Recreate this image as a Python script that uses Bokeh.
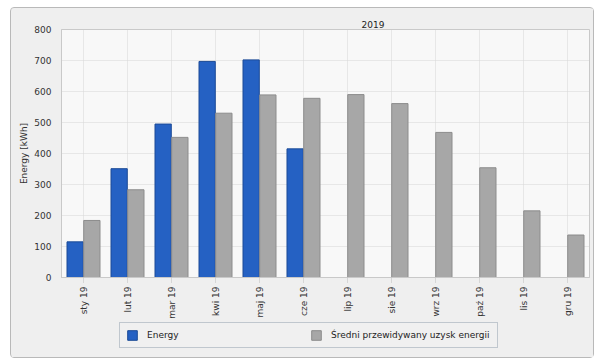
import math
from bokeh.plotting import figure
from bokeh.layouts import column
from bokeh.models import (ColumnDataSource, FactorRange, Range1d, Legend, LegendItem,
                          SingleIntervalTicker)
from bokeh.transform import dodge
from bokeh.embed import file_html
from bokeh.resources import INLINE

months = ["sty 19", "lut 19", "mar 19", "kwi 19", "maj 19", "cze 19",
          "lip 19", "sie 19", "wrz 19", "paź 19", "lis 19", "gru 19"]
energy_months = months[:6]
energy = [115, 351, 495, 697, 702, 415]
expected = [184, 283, 452, 530, 589, 578, 590, 561, 468, 354, 215, 137]
title_text = "2019"
y_label = "Energy [kWh]"
energy_label = "Energy"
expected_label = "Średni przewidywany uzysk energii"

FONT = "DejaVu Sans"
BLUE, BLUE_EDGE = "#2561c3", "#1c4b97"
GREY, GREY_EDGE = "#a7a7a7", "#8c8c8c"
PANEL = "#efefef"

src_e = ColumnDataSource(dict(m=energy_months, v=energy))
src_x = ColumnDataSource(dict(m=months, v=expected))

p = figure(width=582, height=313, x_range=FactorRange(*months, range_padding=0),
           y_range=Range1d(0, 800), output_backend="svg", toolbar_location=None,
           min_border_left=50, min_border_right=4, min_border_top=21, min_border_bottom=44)

p.title.text = title_text
p.title.text_font = FONT
p.title.text_font_size = "9px"
p.title.text_font_style = "normal"
p.title.text_color = "#222222"
p.title.align = "left"
p.title.offset = 300
p.title.standoff = 3

p.border_fill_color = PANEL
p.background_fill_color = "#f8f8f8"
p.outline_line_color = "#c9c9c9"

r1 = p.vbar(x=dodge("m", -0.19, range=p.x_range), top="v", width=0.37, bottom=0,
            source=src_e, fill_color=BLUE, line_color=BLUE_EDGE, line_width=1)
r2 = p.vbar(x=dodge("m", 0.19, range=p.x_range), top="v", width=0.37, bottom=0,
            source=src_x, fill_color=GREY, line_color=GREY_EDGE, line_width=1)

# grids
p.xgrid.grid_line_color = "#d6d6d6"
p.xgrid.grid_line_dash = "1 1"
p.ygrid.grid_line_color = "#d6d6d6"
p.ygrid.grid_line_dash = "1 1"
p.yaxis.ticker = SingleIntervalTicker(interval=100)

# axes
for ax in (p.xaxis[0], p.yaxis[0]):
    ax.axis_line_color = "#c9c9c9"
    ax.major_label_text_font = FONT
    ax.major_label_text_font_size = "9px"
    ax.major_label_text_color = "#333333"
    ax.minor_tick_line_color = None
p.yaxis.major_tick_line_color = None
p.yaxis.major_tick_out = 0
p.yaxis.major_tick_in = 0
p.yaxis.major_label_standoff = 6
p.yaxis.axis_label = y_label
p.yaxis.axis_label_text_font = FONT
p.yaxis.axis_label_text_font_size = "9px"
p.yaxis.axis_label_text_font_style = "normal"
p.yaxis.axis_label_text_color = "#333333"
p.yaxis.axis_label_standoff = 2

p.xaxis.major_label_orientation = math.pi / 2
p.xaxis.major_tick_in = 0
p.xaxis.major_tick_out = 5
p.xaxis.major_tick_line_color = "#bdbdbd"
p.xaxis.major_tick_line_dash = "1 1"
p.xaxis.major_label_standoff = 4

# legend strip (separate figure so the legend is not clipped)
lf = figure(width=582, height=36, output_backend="svg", toolbar_location=None,
            x_axis_type=None, y_axis_type=None,
            x_range=Range1d(0, 1), y_range=Range1d(0, 1),
            min_border_left=0, min_border_right=0, min_border_top=0, min_border_bottom=0)
lf.border_fill_color = PANEL
lf.background_fill_color = PANEL
lf.outline_line_color = None
lf.xgrid.visible = False
lf.ygrid.visible = False
dummy = ColumnDataSource(dict(x=[-5.0], top=[-5.0]))
d1 = lf.vbar(x="x", top="top", bottom=-6, width=0.1, source=dummy,
             fill_color=BLUE, line_color=BLUE_EDGE)
d2 = lf.vbar(x="x", top="top", bottom=-6, width=0.1, source=dummy,
             fill_color=GREY, line_color=GREY_EDGE)

legend = Legend(items=[LegendItem(label=energy_label, renderers=[d1]),
                       LegendItem(label=expected_label, renderers=[d2])],
                location=(58, 9), orientation="horizontal")
legend.label_text_font = FONT
legend.label_text_font_size = "9px"
legend.label_text_color = "#222222"
legend.glyph_width = 12
legend.glyph_height = 12
legend.label_height = 12
legend.label_width = 160
legend.label_standoff = 9
legend.spacing = 3
legend.padding = 6
legend.margin = 0
legend.border_line_color = "#8f9dab"
legend.background_fill_color = "#f0f0f0"
legend.background_fill_alpha = 1
lf.add_layout(legend)

layout = column(p, lf, spacing=0)
layout.margin = (7, 0, 0, 10)
layout.styles = {"border": "1px solid #b9b9b9", "border-radius": "4px",
                 "background-color": PANEL}

open("out.html", "w").write(file_html(layout, INLINE))
